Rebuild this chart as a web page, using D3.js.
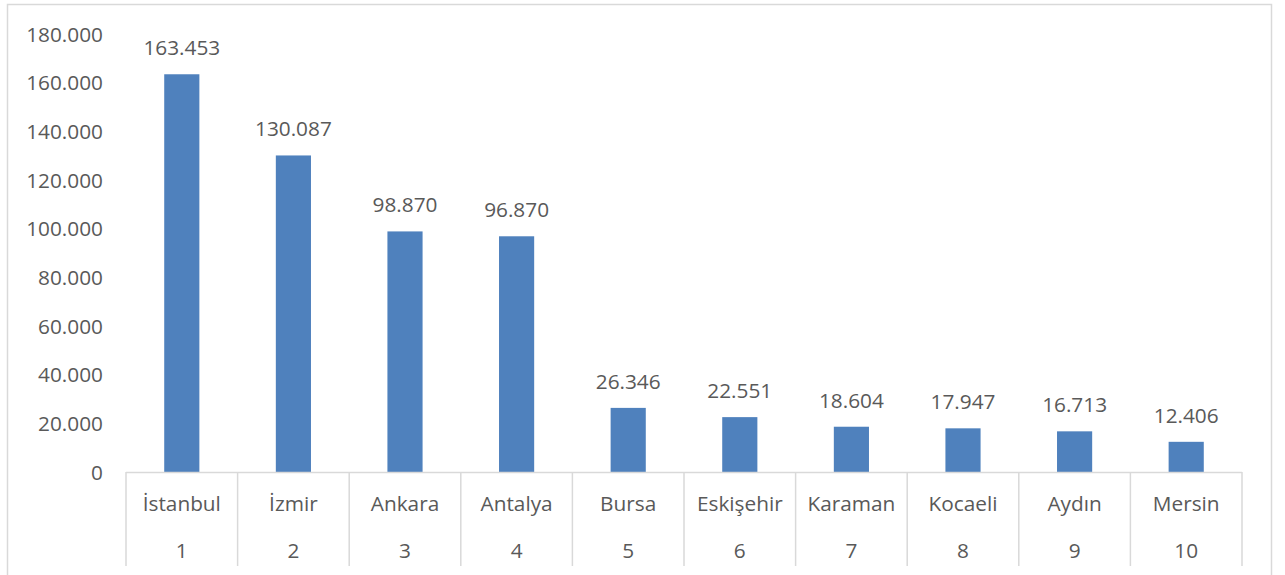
<!DOCTYPE html>
<html><head><meta charset="utf-8">
<script src="https://cdn.jsdelivr.net/npm/d3@7"></script>
<style>body{margin:0;background:#fff}svg{display:block}text{font-family:"Open Sans",sans-serif;fill:#595959}</style>
</head><body><svg id="c" width="1285" height="575"></svg>
<script>
const cities = ["İstanbul","İzmir","Ankara","Antalya","Bursa","Eskişehir","Karaman","Kocaeli","Aydın","Mersin"];
const ranks = ["1","2","3","4","5","6","7","8","9","10"];
const values = [163453,130087,98870,96870,26346,22551,18604,17947,16713,12406];
const yTicks = [0,20000,40000,60000,80000,100000,120000,140000,160000,180000];

const svg = d3.select("#c");
const fmt = v => v === 0 ? "0" : d3.format(",")(v).replace(/,/g,".");
const L = 126, R = 1242, T = 34, B = 472, catBottom = 566;
const FS = "20.8px";
svg.append("rect").attr("x",7.5).attr("y",4.5).attr("width",1264).attr("height",600)
  .attr("fill","none").attr("stroke","#d9d9d9").attr("stroke-width",1.5);

const x = d3.scaleBand().domain(d3.range(values.length)).range([L,R]).paddingInner(0.685).paddingOuter(0.3425);
const xc = d3.scaleBand().domain(d3.range(values.length)).range([L,R]);
const y = d3.scaleLinear().domain([0,180000]).range([B,T]);

const ya = svg.append("g").attr("transform",`translate(${L-23},0)`)
  .call(d3.axisLeft(y).tickValues(yTicks).tickFormat(fmt).tickSize(0).tickPadding(0));
ya.select(".domain").remove();
ya.selectAll("text").style("font-size",FS).style("fill","#595959").style("font-family","'Open Sans',sans-serif").attr("dy","0.35em");

svg.append("g").selectAll("rect").data(values).join("rect")
  .attr("x",(d,i)=>x(i)).attr("width",x.bandwidth())
  .attr("y",d=>y(d)).attr("height",d=>B-y(d)).attr("fill","#4f81bd");

svg.append("g").selectAll("text").data(values).join("text")
  .attr("x",(d,i)=>x(i)+x.bandwidth()/2).attr("y",d=>y(d)-19)
  .attr("text-anchor","middle").style("font-size",FS).text(fmt);

const g = svg.append("g").attr("stroke","#d9d9d9").attr("stroke-width",1.5);
g.append("line").attr("x1",L).attr("x2",R).attr("y1",B+0.5).attr("y2",B+0.5);
g.selectAll("line.sep").data(d3.range(values.length+1)).join("line").attr("class","sep")
  .attr("x1",i=>i<values.length?xc(i):R).attr("x2",i=>i<values.length?xc(i):R)
  .attr("y1",B).attr("y2",catBottom);

svg.append("g").selectAll("text").data(cities).join("text")
  .attr("x",(d,i)=>xc(i)+xc.bandwidth()/2).attr("y",511)
  .attr("text-anchor","middle").style("font-size",FS).text(d=>d);
svg.append("g").selectAll("text").data(ranks).join("text")
  .attr("x",(d,i)=>xc(i)+xc.bandwidth()/2).attr("y",558)
  .attr("text-anchor","middle").style("font-size",FS).text(d=>d);
</script></body></html>
